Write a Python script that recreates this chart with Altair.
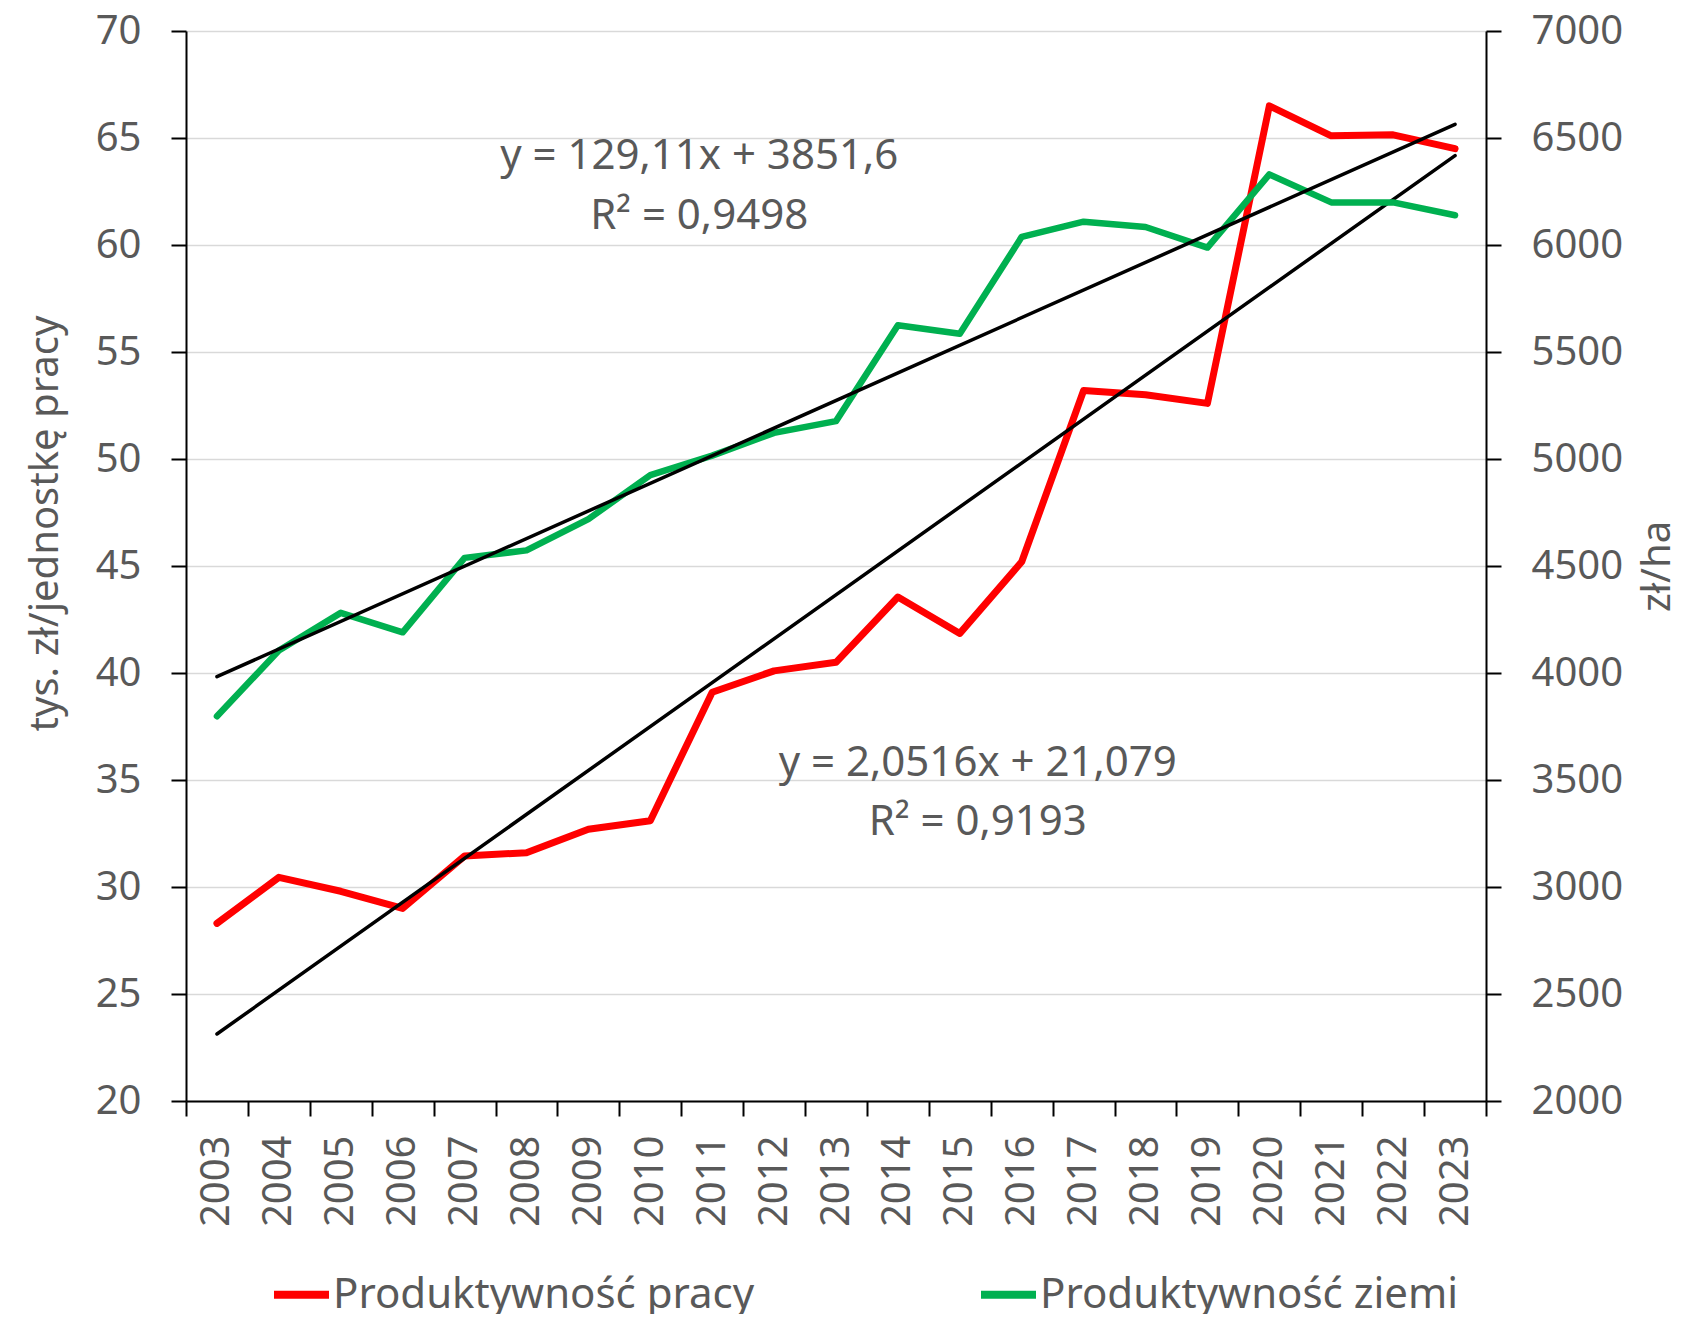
import altair as alt
import pandas as pd

# ---- data ----
years = [str(y) for y in range(2003, 2024)]
idx = list(range(1, 22))
praca = [28.3, 30.45, 29.8, 29.0, 31.45, 31.6, 32.7, 33.1, 39.1, 40.1, 40.5,
         43.55, 41.85, 45.2, 53.2, 53.0, 52.6, 66.5, 65.1, 65.15, 64.5]
ziemia = [3798, 4105, 4281, 4190, 4538, 4573, 4719, 4925, 5016, 5122, 5177,
          5625, 5585, 6038, 6109, 6084, 5988, 6330, 6199, 6199, 6139]
series_names = ["Produktywność pracy", "Produktywność ziemi"]
series_colors = ["#FF0000", "#00B050"]

eq_green_text = ["y = 129,11x + 3851,6", "R² = 0,9498"]
eq_green_year = ["2011", "2011"]
eq_green_val = [64.16, 61.36]
eq_red_text = ["y = 2,0516x + 21,079", "R² = 0,9193"]
eq_red_year = ["2015", "2015"]
eq_red_val = [35.79, 33.04]

left_ticks = list(range(20, 75, 5))
right_ticks = list(range(2000, 7500, 500))

FONT = "Noto Sans"
TXT = "#595959"
FS = 40

df_p = pd.DataFrame({"year": years, "i": idx, "value": praca, "series": series_names[0]})
df_z = pd.DataFrame({"year": years, "i": idx, "value": ziemia, "series": series_names[1]})
df_eg = pd.DataFrame({"year": eq_green_year, "value": eq_green_val, "text": eq_green_text})
df_er = pd.DataFrame({"year": eq_red_year, "value": eq_red_val, "text": eq_red_text})

x_enc = alt.X(
    "year:N",
    scale=alt.Scale(type="band", domain=years, paddingInner=0, paddingOuter=0),
    axis=alt.Axis(
        title=None, labelAngle=270, labelAlign="right", labelBaseline="middle",
        tickBand="extent", tickSize=15, tickColor="black", tickWidth=2,
        domainColor="black", domainWidth=2, grid=False,
        labelFontSize=FS, labelColor=TXT, labelFont=FONT, labelPadding=19,
    ),
)

color_enc = alt.Color(
    "series:N",
    scale=alt.Scale(domain=series_names, range=series_colors),
    legend=alt.Legend(
        title=None, orient="none", legendX=84, legendY=1232, direction="horizontal",
        symbolType="stroke", symbolStrokeWidth=8, symbolSize=3025,
        labelFontSize=42, labelColor=TXT, labelFont=FONT, labelLimit=800,
        labelOffset=0, columnPadding=210, padding=0,
    ),
)

y_left = alt.Y(
    "value:Q",
    scale=alt.Scale(domain=[20, 70], nice=False, zero=False),
    axis=alt.Axis(
        values=left_ticks, title="tys. zł/jednostkę pracy", titleFontSize=FS,
        titleColor=TXT, titleFont=FONT, titleFontWeight="normal", titlePadding=30,
        titleY=492,
        tickSize=15, tickColor="black", tickWidth=2, domainColor="black", domainWidth=2,
        labelFontSize=FS, labelColor=TXT, labelFont=FONT, labelPadding=30,
        grid=True, gridColor="#D9D9D9", gridWidth=1.5,
    ),
)

y_right = alt.Y(
    "value:Q",
    scale=alt.Scale(domain=[2000, 7000], nice=False, zero=False),
    axis=alt.Axis(
        orient="right", values=right_ticks, format="d", title="zł/ha", titleFontSize=FS,
        titleColor=TXT, titleFont=FONT, titleFontWeight="normal", titlePadding=15,
        titleAngle=270, titleBaseline="top",
        tickSize=15, tickColor="black", tickWidth=2, domainColor="black", domainWidth=2,
        labelFontSize=FS, labelColor=TXT, labelFont=FONT, labelPadding=30,
        grid=False,
    ),
)

red_line = alt.Chart(df_p).mark_line(strokeWidth=7, strokeCap="round", strokeJoin="round").encode(
    x=x_enc, y=y_left, color=color_enc
)
red_trend = alt.Chart(df_p).transform_regression("i", "value").transform_calculate(
    year="toString(datum.i + 2002)"
).mark_line(color="black", strokeWidth=3.5, strokeCap="round").encode(
    x=alt.X("year:N"), y=alt.Y("value:Q")
)
eq_green = alt.Chart(df_eg).mark_text(
    fontSize=42, color=TXT, font=FONT, align="center", baseline="middle", dx=-13
).encode(x=alt.X("year:N"), y=alt.Y("value:Q"), text="text:N")
eq_red = alt.Chart(df_er).mark_text(
    fontSize=42, color=TXT, font=FONT, align="center", baseline="middle", dx=18
).encode(x=alt.X("year:N"), y=alt.Y("value:Q"), text="text:N")

left = alt.layer(red_line, red_trend, eq_green, eq_red)

green_line = alt.Chart(df_z).mark_line(strokeWidth=6.5, strokeCap="round", strokeJoin="round").encode(
    x=x_enc, y=y_right, color=color_enc
)
green_trend = alt.Chart(df_z).transform_regression("i", "value").transform_calculate(
    year="toString(datum.i + 2002)"
).mark_line(color="black", strokeWidth=3.5, strokeCap="round").encode(
    x=alt.X("year:N"), y=alt.Y("value:Q")
)
right = alt.layer(green_line, green_trend)

chart = alt.layer(left, right).resolve_scale(y="independent").properties(
    width=1300, height=1070,
    autosize=alt.AutoSizeParams(type="none"),
    padding={"left": 178, "top": 23, "right": 196, "bottom": 213},
).configure_view(stroke=None).configure(font=FONT)

chart.save("out.html", embed_options={"renderer": "svg", "actions": False})
